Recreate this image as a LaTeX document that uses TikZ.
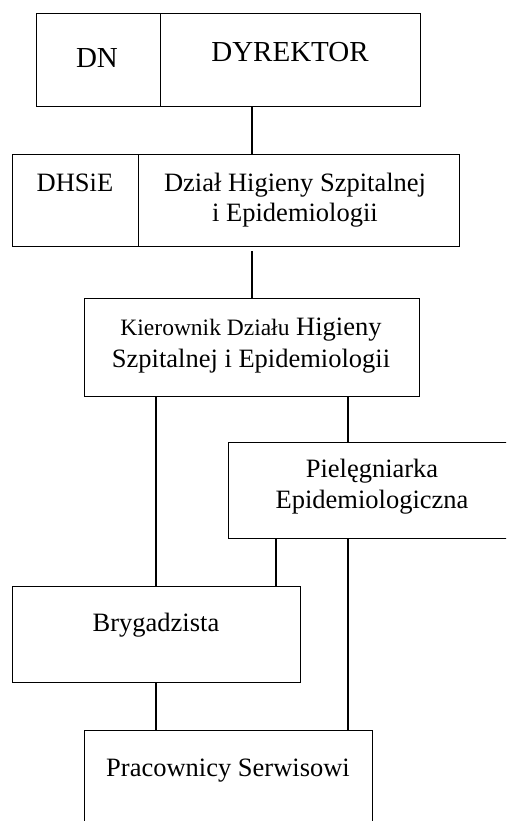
\documentclass[tikz,border=0pt]{standalone}
\usepackage{fontspec}
\setmainfont{Liberation Serif}
\begin{document}
\begin{tikzpicture}[x=1pt,y=-1pt,
  box/.style={draw, line width=1.1pt, inner sep=0pt, anchor=north west},
  txt/.style={inner sep=0pt, anchor=base, font=\fontsize{26.5}{30}\selectfont},
  big/.style={inner sep=0pt, anchor=base, font=\fontsize{29}{32}\selectfont},
  conn/.style={line width=1.1pt}]
\useasboundingbox (0,0) rectangle (506,821);
\clip (0,0) rectangle (506,821);
% boxes
\node[box, minimum width=124pt, minimum height=93pt] (dn) at (36,13) {};
\node[box, minimum width=260pt, minimum height=93pt] (dyr) at (160,13) {};
\node[box, minimum width=126pt, minimum height=92pt] (dhs) at (12,154) {};
\node[box, minimum width=321pt, minimum height=92pt] (dzial) at (138,154) {};
\node[box, minimum width=335pt, minimum height=98pt] (kier) at (84,298) {};
\node[box, minimum width=300pt, minimum height=96pt] (piel) at (228,442) {};
\node[box, minimum width=288pt, minimum height=96pt] (bryg) at (12,586) {};
\node[box, minimum width=288pt, minimum height=130pt] (prac) at (84,730) {};
% texts
\node[big] (tdn) at (97,68) {DN};
\node[big] (tdyr) at (290,62) {DYREKTOR};
\node[txt] (tdhs) at (75,191) {DHSiE};
\node[txt] (tdz1) at (295,191) {Dział Higieny Szpitalnej};
\node[txt] (tdz2) at (295,221) {i Epidemiologii};
\node[txt] (tk1) at (251,335) {{\fontsize{23.5}{28}\selectfont Kierownik Działu} Higieny};
\node[txt] (tk2) at (251,367) {Szpitalnej i Epidemiologii};
\node[txt] (tp1) at (372,477) {Pielęgniarka};
\node[txt] (tp2) at (372,508) {Epidemiologiczna};
\node[txt] (tb) at (156,631) {Brygadzista};
\node[txt] (tpr) at (228,776) {Pracownicy Serwisowi};
% connectors
\draw[conn] (dyr.south -| 252,0) -- (dzial.north -| 252,0);
\draw[conn] ([yshift=-4pt]dzial.south -| 252,0) -- (kier.north -| 252,0);
\draw[conn] (kier.south -| 156,0) -- (bryg.north -| 156,0);
\draw[conn] (kier.south -| 348,0) -- (piel.north -| 348,0);
\draw[conn] (piel.south -| 276,0) -- (bryg.north -| 276,0);
\draw[conn] (piel.south -| 348,0) -- (prac.north -| 348,0);
\draw[conn] (bryg.south -| 156,0) -- (prac.north -| 156,0);
\end{tikzpicture}
\end{document}
